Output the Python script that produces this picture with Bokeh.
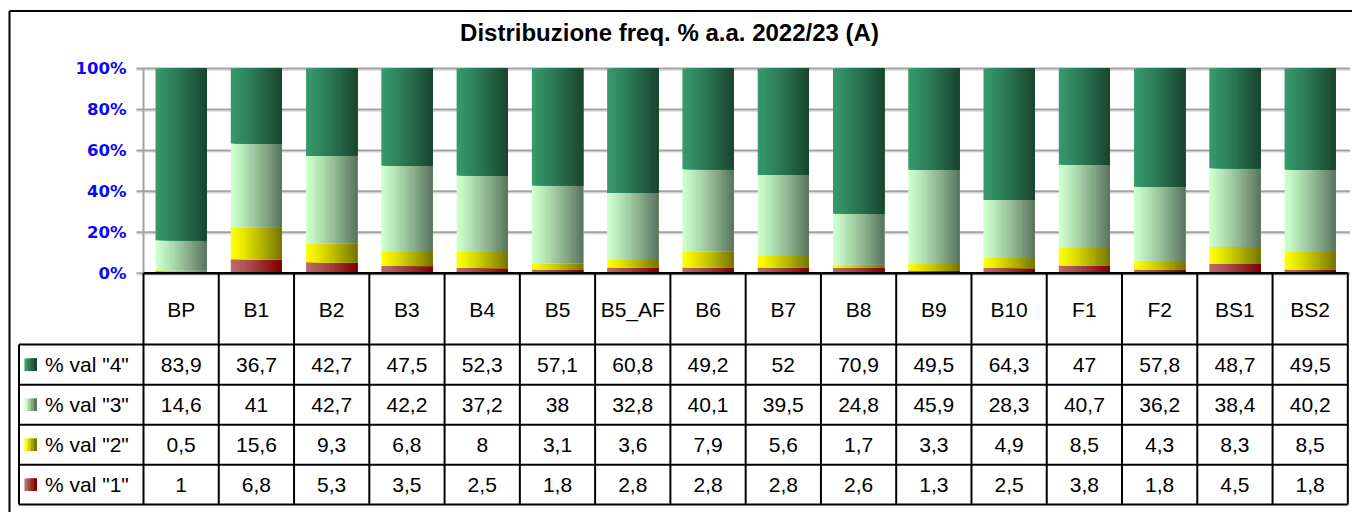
import numpy as np
from bokeh.plotting import figure
from bokeh.models import Range1d, ColumnDataSource
from bokeh.core.properties import value
from bokeh.embed import file_html
from bokeh.resources import INLINE

# ---------------- data ----------------
categories = ["BP", "B1", "B2", "B3", "B4", "B5", "B5_AF", "B6", "B7", "B8",
              "B9", "B10", "F1", "F2", "BS1", "BS2"]
val4 = [83.9, 36.7, 42.7, 47.5, 52.3, 57.1, 60.8, 49.2, 52, 70.9, 49.5, 64.3, 47, 57.8, 48.7, 49.5]
val3 = [14.6, 41, 42.7, 42.2, 37.2, 38, 32.8, 40.1, 39.5, 24.8, 45.9, 28.3, 40.7, 36.2, 38.4, 40.2]
val2 = [0.5, 15.6, 9.3, 6.8, 8, 3.1, 3.6, 7.9, 5.6, 1.7, 3.3, 4.9, 8.5, 4.3, 8.3, 8.5]
val1 = [1, 6.8, 5.3, 3.5, 2.5, 1.8, 2.8, 2.8, 2.8, 2.6, 1.3, 2.5, 3.8, 1.8, 4.5, 1.8]
series_names = ['% val "4"', '% val "3"', '% val "2"', '% val "1"']
y_ticks = [0, 20, 40, 60, 80, 100]
y_tick_labels = ["0%", "20%", "40%", "60%", "80%", "100%"]
title_text = "Distribuzione freq. % a.a. 2022/23 (A)"

# ---------------- layout constants (page pixels) ----------------
W, H = 1352, 512
PAGE_OFF = 0
X0 = 143.0      # left edge of plot area
CW = 75.27      # width of one category
Y0 = 272.7      # 0% baseline
YS = 2.047      # pixels per percent


def xd(px):
    return (px - X0) / CW


def yd(py):
    return (Y0 - py) / YS


x_start, x_end = xd(PAGE_OFF), xd(PAGE_OFF + W)
y_top, y_bottom = yd(PAGE_OFF), yd(PAGE_OFF + H)

p = figure(width=W, height=H, x_range=Range1d(x_start, x_end),
           y_range=Range1d(y_bottom, y_top), output_backend="svg",
           toolbar_location=None, x_axis_location=None, y_axis_location=None,
           min_border=0, min_border_left=0, min_border_right=0,
           min_border_top=0, min_border_bottom=0, outline_line_color=None)
p.grid.visible = False
p.background_fill_color = "white"
p.border_fill_color = "white"

# ---------------- gradients ----------------
grad = {
    0: ((0x36, 0x98, 0x6B), (0x1A, 0x46, 0x30)),   # val 4
    1: ((0xCC, 0xFF, 0xCC), (0x5C, 0x77, 0x5F)),   # val 3
    2: ((0xFF, 0xFF, 0x00), (0x78, 0x78, 0x00)),   # val 2
    3: ((0xBA, 0x6A, 0x6A), (0x82, 0x00, 0x00)),   # val 1
}


def mix(c0, c1, t):
    return "#%02x%02x%02x" % tuple(int(round(a + (b - a) * t)) for a, b in zip(c0, c1))


NSTRIP = 22
BW = 0.68

# ---------------- gridlines & axis ----------------
p.segment(x0=xd(136), x1=xd(1349.5), y0=[t - 1.6 / YS for t in y_ticks],
          y1=[t - 1.6 / YS for t in y_ticks], line_color="#DADADA", line_width=1.2)
p.segment(x0=xd(136), x1=xd(1349.5), y0=y_ticks, y1=y_ticks,
          line_color="#A3A3A3", line_width=2)
p.segment(x0=[0], x1=[0], y0=[0], y1=[100], line_color="#A3A3A3", line_width=2)

# ---------------- stacked bars ----------------
series = [val4, val3, val2, val1]
totals = [a + b + c + d for a, b, c, d in zip(val1, val2, val3, val4)]
stack_order = [3, 2, 1, 0]  # bottom to top: val1, val2, val3, val4
L, R, B, T, C = [], [], [], [], []
for i, cat in enumerate(categories):
    base = 0.0
    for s in stack_order:
        h = series[s][i] / totals[i] * 100.0
        c0, c1 = grad[s]
        xl = i + 0.5 - BW / 2
        xr = i + 0.5 + BW / 2
        for j in range(NSTRIP):
            t = j / (NSTRIP - 1)
            L.append(xl + j * BW / NSTRIP)
            R.append(xr)
            B.append(base)
            T.append(base + h)
            C.append(mix(c0, c1, t ** 1.15))
        base += h
p.quad(source=ColumnDataSource(dict(left=L, right=R, bottom=B, top=T, color=C)),
       left="left", right="right", bottom="bottom", top="top",
       fill_color="color", line_color=None)

# ---------------- y tick labels ----------------
p.text(x=[xd(126)] * len(y_ticks), y=y_ticks, text=y_tick_labels,
       text_align="right", text_baseline="middle",
       text_font=value("DejaVu Sans"), text_font_style="bold",
       text_font_size="16.5px", text_color="#0A0AF5")

# ---------------- title ----------------
p.text(x=[xd(669)], y=[yd(32)], text=[title_text], text_align="center",
       text_baseline="middle", text_font=value("Liberation Sans"),
       text_font_style="bold", text_font_size="24px", text_color="black")

# ---------------- data table ----------------
row_lines = [344, 384.3, 424.3, 464.3, 504]
row_centers = [364.2, 404.3, 444.3, 484.2]
n = len(categories)
# vertical column lines
p.segment(x0=list(range(n + 1)), x1=list(range(n + 1)),
          y0=[0] * (n + 1), y1=[yd(504)] * (n + 1), line_color="black", line_width=2)
p.segment(x0=[xd(18.5)], x1=[xd(18.5)], y0=[yd(344)], y1=[yd(504)],
          line_color="black", line_width=2)
# horizontal row lines
p.segment(x0=[xd(18.5)] * len(row_lines), x1=[n] * len(row_lines),
          y0=[yd(r) for r in row_lines], y1=[yd(r) for r in row_lines],
          line_color="black", line_width=2)
# baseline
p.segment(x0=[0], x1=[n], y0=[0], y1=[0], line_color="black", line_width=2.5)

# header
p.text(x=[i + 0.5 for i in range(n)], y=[yd(308.5)] * n, text=categories,
       text_align="center", text_baseline="middle",
       text_font=value("Liberation Sans"), text_font_size="21px", text_color="black")


def fmt(v):
    return ("%g" % v).replace(".", ",")


tx, ty, tt = [], [], []
for r, s in enumerate(series):
    for i in range(n):
        tx.append(i + 0.5)
        ty.append(yd(row_centers[r]))
        tt.append(fmt(s[i]))
p.text(x=tx, y=ty, text=tt, text_align="center", text_baseline="middle",
       text_font=value("Liberation Sans"), text_font_size="21px", text_color="black")

# legend labels and swatches
p.text(x=[xd(44.5)] * 4, y=[yd(rc) for rc in row_centers], text=series_names,
       text_align="left", text_baseline="middle",
       text_font=value("Liberation Sans"), text_font_size="21px", text_color="black")
SL, SR, SB, ST, SC = [], [], [], [], []
NS = 4
for r, s in enumerate([0, 1, 2, 3]):
    c0, c1 = grad[s]
    for j in range(NS):
        SL.append(xd(24 + j * 12.5 / NS))
        SR.append(xd(36.5))
        SB.append(yd(row_centers[r] + 6.3))
        ST.append(yd(row_centers[r] - 6.3))
        SC.append(mix(c0, c1, j / (NS - 1)))
p.quad(source=ColumnDataSource(dict(left=SL, right=SR, bottom=SB, top=ST, color=SC)),
       left="left", right="right", bottom="bottom", top="top",
       fill_color="color", line_color=None)

# ---------------- outer chart border ----------------
p.segment(x0=[xd(9), xd(9)], x1=[xd(9), xd(1352)],
          y0=[yd(10.5), yd(10.5)], y1=[yd(513), yd(10.5)],
          line_color="black", line_width=2)

open("out.html", "w").write(file_html(p, INLINE))
